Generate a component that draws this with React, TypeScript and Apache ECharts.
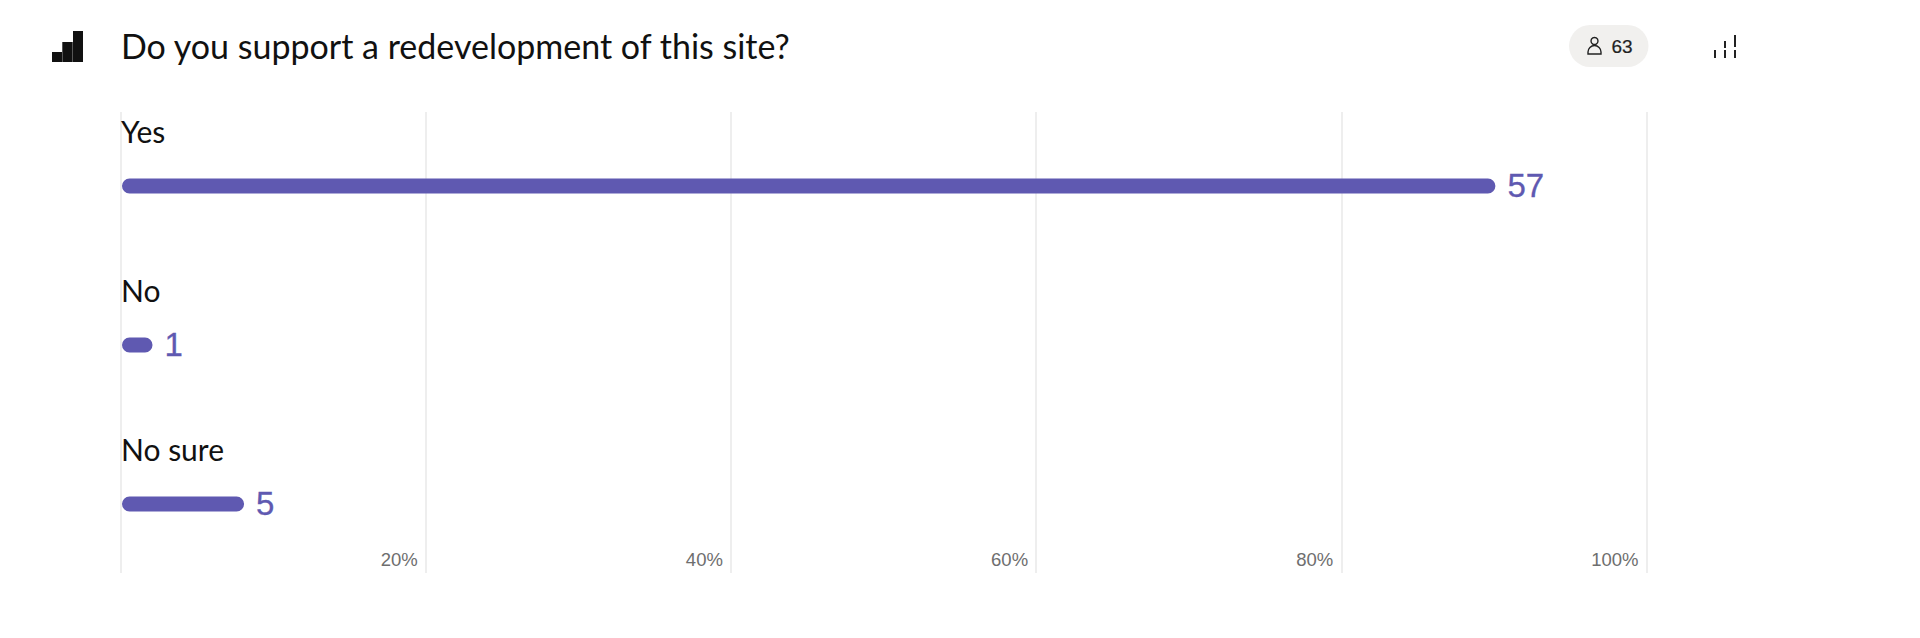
import React, { useEffect, useRef } from "react";
import * as echarts from "echarts";

const categories = ["Yes", "No", "No sure"];
const counts = [57, 1, 5];
const percents = [90, 2, 8];
const respondents = "63";
const title = "Do you support a redevelopment of this site?";
const ticks = [0, 20, 40, 60, 80, 100];

const INK = "#111111";
const BAR = "#5F59B1";
const SANS = "Lato, 'Noto Sans', sans-serif";
const NUM = "'Liberation Sans', Arial, sans-serif";

echarts.graphic.registerShape(
  "personBody",
  echarts.graphic.extendPath("M0 9 L0 7 A6.5 6.5 0 0 1 13 7 L13 9 Z", {})
);

export default function App() {
  const ref = useRef<HTMLDivElement>(null);
  useEffect(() => {
    const chart = echarts.init(ref.current!, undefined, { renderer: "svg" });
    chart.setOption({
      animation: false,
      backgroundColor: "#ffffff",
      grid: [
        { left: 120.5, width: 1526, top: 112, height: 461 },
        { left: 122, width: 1526, top: 106.5, height: 477 },
      ],
      xAxis: [
        {
          gridIndex: 0, type: "value", min: 0, max: 100, interval: 20, position: "bottom",
          axisLine: { show: false }, axisTick: { show: false },
          splitLine: { show: true, lineStyle: { color: "#EEEEEE", width: 2 } },
          axisLabel: {
            inside: true, margin: 4, align: "right", verticalAlign: "bottom",
            padding: [0, 8, 0, 0], fontFamily: NUM, fontSize: 18.5, color: "#6E6E6E",
            formatter: (v: number) => (ticks.includes(v) && v > 0 ? `${v}%` : ""),
          },
        },
        {
          gridIndex: 1, type: "value", min: 0, max: 100, show: false,
        },
      ],
      yAxis: [
        { gridIndex: 0, type: "category", data: categories, show: false },
        { gridIndex: 1, type: "category", data: categories, inverse: true, show: false },
      ],
      series: [
        {
          type: "bar", xAxisIndex: 1, yAxisIndex: 1, barWidth: 15, barGap: "-100%",
          data: percents.map((v, i) => ({ value: v, count: counts[i] })),
          itemStyle: { color: BAR, borderRadius: 8 },
          label: {
            show: true, position: "right", distance: 12, offset: [0, -1], fontFamily: NUM, fontSize: 33,
            color: BAR, textBorderColor: BAR, textBorderWidth: 0.3,
            formatter: (p: any) => String(p.data.count),
          },
        },
        {
          type: "bar", xAxisIndex: 1, yAxisIndex: 1, barWidth: 15, barGap: "-100%",
          data: percents,
          itemStyle: { color: "transparent" },
          silent: true,
          label: {
            show: true, position: [-1, -62.5], fontFamily: SANS, fontSize: 30, color: INK,
            formatter: (p: any) => p.name,
          },
        },
      ],
      graphic: [
        { type: "text", x: 121, y: 28.5, style: { text: title, fontFamily: SANS, fontSize: 34, fill: INK } },
        { type: "rect", shape: { x: 52, y: 52, width: 10, height: 10 }, style: { fill: INK } },
        { type: "rect", shape: { x: 62.3, y: 42, width: 10.4, height: 20 }, style: { fill: INK } },
        { type: "rect", shape: { x: 73, y: 31, width: 10, height: 31 }, style: { fill: INK } },
        { type: "rect", shape: { x: 1569, y: 25, width: 79.5, height: 42, r: 21 }, style: { fill: "#F1F0EE" } },
        { type: "circle", shape: { cx: 1594.5, cy: 41, r: 3.5 }, style: { fill: "none", stroke: "#222222", lineWidth: 1.4 } },
        { type: "personBody", x: 1588, y: 45, style: { fill: "none", stroke: "#222222", lineWidth: 1.4 } },
        { type: "text", x: 1611.5, y: 36.5, style: { text: respondents, fontFamily: NUM, fontSize: 19, fill: "#222222", stroke: "#222222", lineWidth: 0.2 } },
        { type: "rect", shape: { x: 1714, y: 50, width: 2, height: 8 }, style: { fill: "#222222" } },
        { type: "rect", shape: { x: 1724, y: 41, width: 2, height: 7 }, style: { fill: "#222222" } },
        { type: "rect", shape: { x: 1724, y: 50, width: 2, height: 8 }, style: { fill: "#222222" } },
        { type: "rect", shape: { x: 1734, y: 35, width: 2, height: 12 }, style: { fill: "#222222" } },
        { type: "rect", shape: { x: 1734, y: 50, width: 2, height: 8 }, style: { fill: "#222222" } },
      ],
    });
    return () => chart.dispose();
  }, []);
  return <div ref={ref} style={{ position: "fixed", left: 0, top: 0, width: 1920, height: 638 }} />;
}
